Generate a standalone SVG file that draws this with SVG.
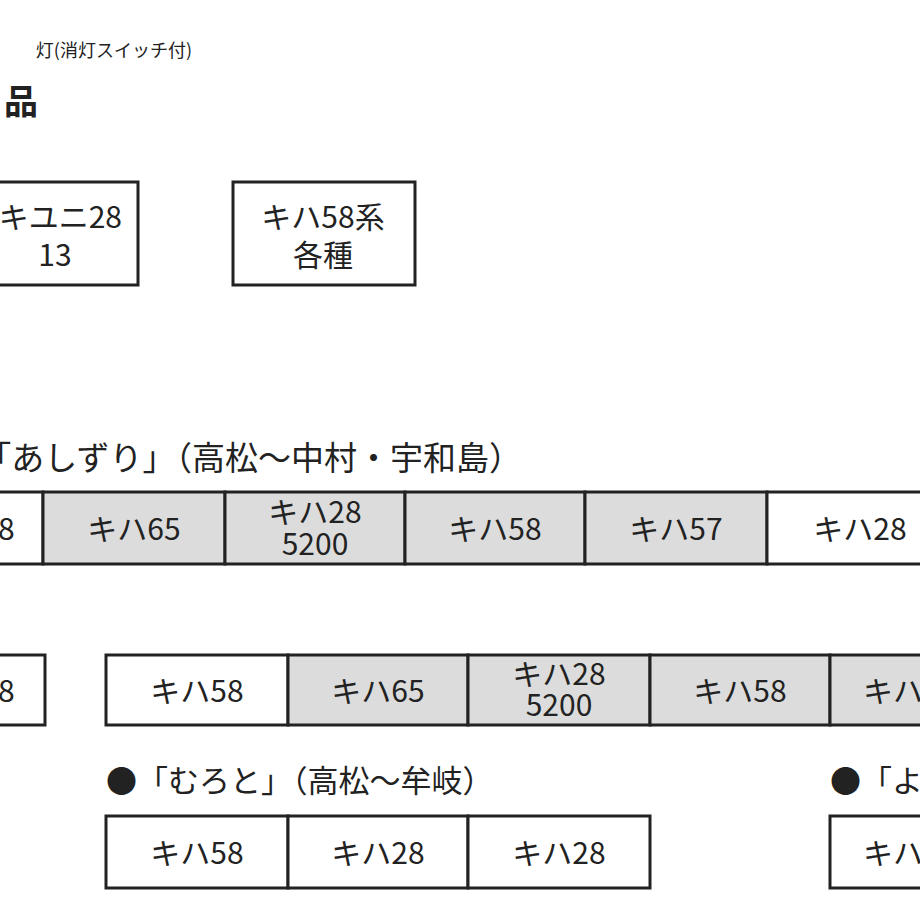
<svg xmlns="http://www.w3.org/2000/svg" width="920" height="920" viewBox="0 0 920 920">
<style>
text{font-family:"Noto Sans CJK JP","Liberation Sans",sans-serif;fill:#222}
.c{stroke:#222;stroke-width:3}
.w{fill:#fff}
.g{fill:#dcdcdc}
.t{font-size:30px;text-anchor:middle}
.h{font-size:31px}
</style>
<rect width="920" height="920" fill="#fff"/>
<text x="192" y="57" font-size="18" text-anchor="end">灯(消灯スイッチ付)</text>
<text x="38" y="114" font-size="34" font-weight="bold" text-anchor="end">品</text>
<g id="top1"><rect class="c w" x="-10" y="182" width="148" height="103"/><text class="t" x="122" y="228" style="text-anchor:end">キユニ28</text><text class="t" x="55" y="266">13</text></g>
<g id="top2"><rect class="c w" x="233" y="182" width="182" height="103"/><text class="t" x="323" y="228">キハ58系</text><text class="t" x="323" y="266">各種</text></g>
<text class="h" x="522" y="470" text-anchor="end" font-size="33" style="font-size:33px">●「あしずり」（高松〜中村・宇和島）</text>
<g id="row1">
<rect class="c w" x="-10" y="492" width="53" height="72"/><text class="t" x="-2" y="540">28</text>
<rect class="c g" x="43" y="492" width="182" height="72"/><text class="t" x="134" y="540">キハ65</text>
<rect class="c g" x="225" y="492" width="180" height="72"/><text class="t" x="315" y="523">キハ28</text><text class="t" x="315" y="555">5200</text>
<rect class="c g" x="405" y="492" width="180" height="72"/><text class="t" x="495" y="540">キハ58</text>
<rect class="c g" x="585" y="492" width="182" height="72"/><text class="t" x="676" y="540">キハ57</text>
<rect class="c w" x="767" y="492" width="170" height="72"/><text class="t" x="860" y="540">キハ28</text>
</g>
<g id="row2">
<rect class="c w" x="-10" y="655" width="55" height="70"/><text class="t" x="-2" y="702">28</text>
<rect class="c w" x="106" y="655" width="182" height="70"/><text class="t" x="197" y="702">キハ58</text>
<rect class="c g" x="288" y="655" width="180" height="70"/><text class="t" x="378" y="702">キハ65</text>
<rect class="c g" x="468" y="655" width="182" height="70"/><text class="t" x="559" y="685">キハ28</text><text class="t" x="559" y="716">5200</text>
<rect class="c g" x="650" y="655" width="180" height="70"/><text class="t" x="740" y="702">キハ58</text>
<rect class="c g" x="830" y="655" width="110" height="70"/><text class="t" x="893" y="702">キハ</text>
</g>
<text class="h" x="106" y="792">●「むろと」（高松〜牟岐）</text>
<g id="row3">
<rect class="c w" x="106" y="816" width="182" height="72"/><text class="t" x="197" y="864">キハ58</text>
<rect class="c w" x="288" y="816" width="180" height="72"/><text class="t" x="378" y="864">キハ28</text>
<rect class="c w" x="468" y="816" width="182" height="72"/><text class="t" x="559" y="864">キハ28</text>
</g>
<text class="h" x="830" y="792">●「よ</text>
<g id="row4"><rect class="c w" x="830" y="816" width="110" height="72"/><text class="t" x="893" y="864">キハ</text></g>
</svg>
